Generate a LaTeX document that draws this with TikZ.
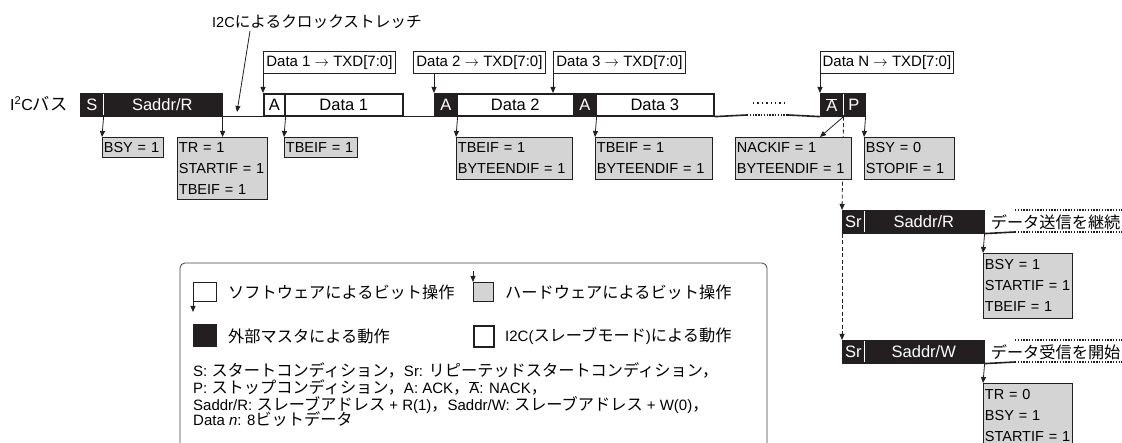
\documentclass[tikz,border=0pt]{standalone}
\usepackage{fontspec}
\setmainfont{Liberation Sans}
\newfontfamily\jpfont[Scale=1.08]{Noto Sans CJK JP}
\newcommand\jtx[1]{{\jpfont #1}}
\usetikzlibrary{arrows.meta,calc}
\definecolor{blk}{RGB}{35,31,32}
\definecolor{flagfill}{RGB}{212,212,212}
\tikzset{
  pkt/.style={anchor=north west, minimum height=22pt, inner sep=0pt, line width=1.6pt, font=\fontsize{16.5}{18}\selectfont},
  bpk/.style={pkt, draw=blk, fill=blk, text=white},
  wpk/.style={pkt, draw=blk, fill=white},
  flag/.style={anchor=north west, draw=blk, fill=flagfill, line width=0.8pt, inner xsep=1.5pt, inner ysep=0pt, align=left, font=\fontsize{14.5}{21}\selectfont},
  txd/.style={anchor=north west, draw=blk, fill=white, line width=0.8pt, inner sep=0pt, minimum height=22pt, font=\fontsize{15}{16}\selectfont},
  arr/.style={-{Triangle[length=6pt,width=5pt]}, line width=0.8pt, draw=blk},
  busline/.style={line width=1.6pt, draw=blk},
  dotline/.style={line width=1.6pt, draw=blk, dash pattern=on 1.4pt off 1.4pt},
  dashline/.style={arr, dash pattern=on 4pt off 2.5pt},
  divider/.style={draw=white, line width=0.8pt},
  lsq/.style={anchor=north west, inner sep=0pt, draw=blk, line width=0.8pt},
  lgt/.style={anchor=west, inner sep=0pt, font=\fontsize{15}{17}\selectfont},
  lgtb/.style={anchor=base west, inner sep=0pt, font=\fontsize{15}{17}\selectfont},
  rtxt/.style={anchor=west, inner sep=0pt, font=\fontsize{15}{17}\selectfont},
}
\begin{document}
\begin{tikzpicture}[x=1pt,y=-1pt]
\useasboundingbox[fill=white] (0,0) rectangle (1122,443);

% bus label
\node[anchor=west, inner sep=0pt, font=\fontsize{16}{18}\selectfont] (bus) at (10,104) {I\textsuperscript{2}C\jtx{バス}};

% clock stretch label
\node[anchor=west, inner sep=0pt, font=\fontsize{14.5}{16}\selectfont] (cs) at (212,22) {I2C\jtx{によるクロックストレッチ}};
\coordinate (csEnd) at (237,112);
\draw[arr] ([xshift=38pt,yshift=-2pt]cs.south west) -- (csEnd);

% bus packets
\node[bpk, minimum width=22pt] (S) at (80,93) {S};
\node[bpk, minimum width=119pt] (SR) at (102,93) {Saddr/R};
\node[wpk, minimum width=21pt] (A1) at (263,93) {A};
\node[wpk, minimum width=118pt] (D1) at (284,93) {Data 1};
\node[bpk, minimum width=22pt] (A2) at (434,93) {A};
\node[wpk, minimum width=117pt] (D2) at (456,93) {Data 2};
\node[bpk, minimum width=22pt] (A3) at (573,93) {A};
\node[wpk, minimum width=118pt] (D3) at (595,93) {Data 3};
\node[bpk, minimum width=22pt] (NA) at (820,93) {$\overline{\mbox{A}}$};
\node[bpk, minimum width=22pt] (P) at (842,93) {P};
\draw[divider] ([yshift=-1.5pt]S.north east) -- ([yshift=1.5pt]S.south east);
\draw[divider] ([yshift=-1.5pt]NA.north east) -- ([yshift=1.5pt]NA.south east);

% bus line
\coordinate (dt1) at (747,115);
\coordinate (dt2) at (788,115);
\draw[busline] (SR.south east) -- (A1.south west);
\draw[busline] (D1.south east) -- (A2.south west);
\draw[busline] (D3.south east) -- (dt1);
\draw[dotline] (dt1) -- (dt2);
\draw[busline] (dt2) -- (NA.south west);
\draw[line width=1.4pt, draw=blk, dash pattern=on 1.4pt off 3pt] (753,103) -- (785,103);

% right side packets
\node[bpk, minimum width=21pt] (Sr1) at (842,210) {Sr};
\node[bpk, minimum width=120pt] (SRR) at (863,210) {Saddr/R};
\draw[divider] ([yshift=-1.5pt]Sr1.north east) -- ([yshift=1.5pt]Sr1.south east);
\node[rtxt] (c1) at ([xshift=6pt]SRR.east) {\jtx{データ送信を継続}};
\coordinate (r1t) at (1015,210);
\coordinate (r1te) at (1122,210);
\coordinate (r1b) at (1015,232);
\coordinate (r1be) at (1122,232);
\draw[busline] (SRR.south east) -- (r1b);
\draw[dotline] (r1b) -- (r1be);
\draw[dotline] (r1t) -- (r1te);

\node[bpk, minimum width=21pt] (Sr2) at (842,340) {Sr};
\node[bpk, minimum width=120pt] (SRW) at (863,340) {Saddr/W};
\draw[divider] ([yshift=-1.5pt]Sr2.north east) -- ([yshift=1.5pt]Sr2.south east);
\node[rtxt] (c2) at ([xshift=6pt]SRW.east) {\jtx{データ受信を開始}};
\coordinate (r2t) at (1015,340);
\coordinate (r2te) at (1122,340);
\coordinate (r2b) at (1015,362);
\coordinate (r2be) at (1122,362);
\draw[busline] (SRW.south east) -- (r2b);
\draw[dotline] (r2b) -- (r2be);
\draw[dotline] (r2t) -- (r2te);

% dashed branches
\draw[dashline] (NA.south east) -- (Sr1.north west);
\draw[dashline] (Sr1.south west) -- (Sr2.north west);

% top TXD boxes
\node[txd, minimum width=132pt] (tD1) at (263,51) {Data 1 $\rightarrow$ TXD[7:0]};
\node[txd, minimum width=132pt] (tD2) at (413,51) {Data 2 $\rightarrow$ TXD[7:0]};
\node[txd, minimum width=132pt] (tD3) at (553,51) {Data 3 $\rightarrow$ TXD[7:0]};
\node[txd, minimum width=133pt] (tDN) at (820,51) {Data N $\rightarrow$ TXD[7:0]};
\draw[arr] (tD1.south west) -- (A1.north west);
\draw[arr] (A2.north west |- tD2.south) -- (A2.north west);
\draw[arr] (tD3.south west) -- (tD3.south west |- D2.north);
\draw[arr] (tDN.south west) -- (NA.north west);

% flag boxes
\node[flag, text width=58pt, minimum height=20pt] (bBSY) at (102,137) {BSY = 1};
\node[flag, text width=87pt, minimum height=62pt] (bTR) at (177,137) {TR = 1\\STARTIF = 1\\TBEIF = 1};
\node[flag, text width=70pt, minimum height=20pt] (bT1) at (284,137) {TBEIF = 1};
\node[flag, text width=113pt, minimum height=42pt] (bT2) at (456,137) {TBEIF = 1\\BYTEENDIF = 1};
\node[flag, text width=114pt, minimum height=42pt] (bT3) at (595,137) {TBEIF = 1\\BYTEENDIF = 1};
\node[flag, text width=113pt, minimum height=42pt] (bNK) at (735,137) {NACKIF = 1\\BYTEENDIF = 1};
\node[flag, text width=87pt, minimum height=42pt] (bP) at (864,137) {BSY = 0\\STOPIF = 1};
\node[flag, text width=86pt, minimum height=65pt] (bR1) at (983,253) {BSY = 1\\STARTIF = 1\\TBEIF = 1};
\node[flag, text width=86pt, minimum height=65pt] (bR2) at (983,383) {TR = 0\\BSY = 1\\STARTIF = 1};

\draw[arr] (S.south east) -- (bBSY.north west);
\draw[arr] (SR.south east) -- (SR.south east |- bTR.north);
\draw[arr] (A1.south east) -- (bT1.north west);
\draw[arr] (A2.south east) -- (bT2.north west);
\draw[arr] (A3.south east) -- (bT3.north west);
\draw[arr] (NA.south east) -- (NA.south west |- bNK.north);
\draw[arr] (P.south east) -- (bP.north west);
\draw[arr] (SRR.south east) -- (bR1.north west);
\draw[arr] (SRW.south east) -- (bR2.north west);

% legend
\draw[draw=blk!85, line width=0.8pt, rounded corners=5pt] (180,263) rectangle (767,480);
\node[lsq, fill=white, minimum width=23pt, minimum height=19pt] (L1) at (193,282) {};
\coordinate (L1e) at (193,312);
\draw[arr] (L1.south west) -- (L1e);
\node[lsq, fill=flagfill, minimum width=20pt, minimum height=19pt] (L2) at (473,282) {};
\coordinate (L2s) at (473,271);
\draw[arr] (L2s) -- (L2.north west);
\node[lsq, fill=blk, minimum width=23pt, minimum height=22pt] (L3) at (193,324) {};
\node[lsq, fill=white, line width=1.6pt, minimum width=20pt, minimum height=21pt] (L4) at (473,325) {};

\node[lgt] (t1) at (228,292) {\jtx{ソフトウェアによるビット操作}};
\node[lgt] (t2) at (505,292) {\jtx{ハードウェアによるビット操作}};
\node[lgt] (t3) at (228,336) {\jtx{外部マスタによる動作}};
\node[lgt] (t4) at (505,336) {I2C(\jtx{スレーブモード})\jtx{による動作}};

\node[lgtb] (n1) at (193,377) {S: \jtx{スタートコンディション，}Sr: \jtx{リピーテッドスタートコンディション，}};
\node[lgtb] (n2) at (193,394) {P: \jtx{ストップコンディション，}A: ACK\jtx{，}$\overline{\mbox{A}}$: NACK\jtx{，}};
\node[lgtb] (n3) at (193,410) {Saddr/R: \jtx{スレーブアドレス} + R(1)\jtx{，}Saddr/W: \jtx{スレーブアドレス} + W(0)\jtx{，}};
\node[lgtb] (n4) at (193,426) {Data \textit{n}: 8\jtx{ビットデータ}};
\end{tikzpicture}
\end{document}
